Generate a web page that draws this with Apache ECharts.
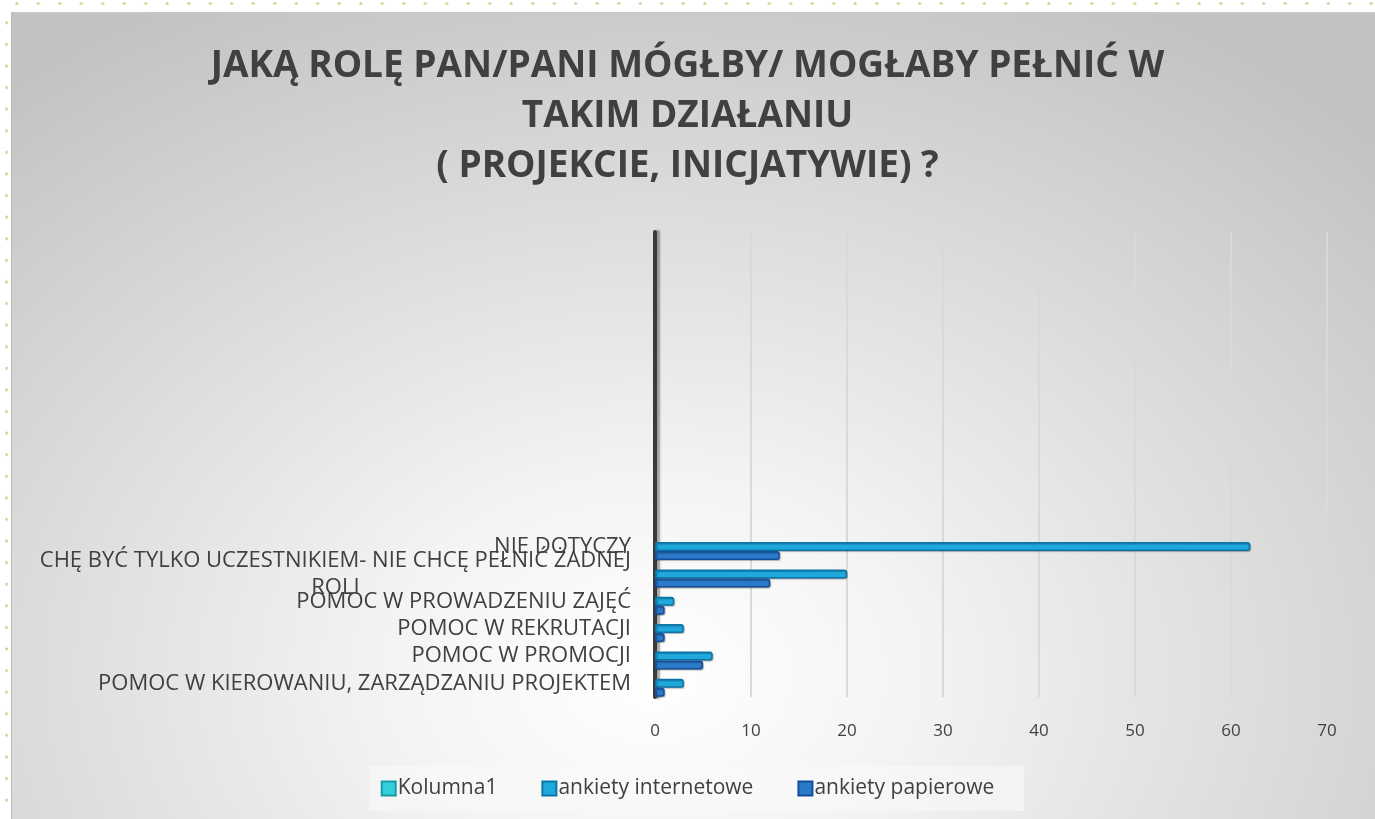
<!DOCTYPE html>
<html>
<head>
<meta charset="utf-8">
<script src="https://cdn.jsdelivr.net/npm/echarts@6/dist/echarts.min.js"></script>
<style>
  html, body { margin: 0; padding: 0; }
  body {
    width: 1375px; height: 819px; overflow: hidden; position: relative;
    background-color: #fff;
  }
  #dotsTop {
    position: absolute; left: 6px; top: 0; width: 1369px; height: 7px;
    background-image: radial-gradient(circle, #c9dd9f 1.4px, transparent 1.8px);
    background-size: 21.5px 7px;
  }
  #dotsLeft {
    position: absolute; left: 3px; top: 12px; width: 7px; height: 807px;
    background-image: radial-gradient(circle, #c9dd9f 1.4px, transparent 1.8px);
    background-size: 7px 21.6px;
  }
  #frame {
    position: absolute; left: 11px; top: 12px; width: 1364px; height: 807px;
    border-left: 1px solid #b8b8b8; border-top: 1px solid #c8c8c8;
    box-sizing: border-box;
    background: radial-gradient(ellipse 75% 95% at 47% 82%, #ffffff 0%, #f4f4f4 25%, #c2c2c2 100%);
  }
  #chart { position: absolute; left: 0; top: 0; width: 1375px; height: 819px; }
</style>
</head>
<body>
<div id="dotsTop"></div>
<div id="dotsLeft"></div>
<div id="frame"></div>
<div id="chart"></div>
<script>
// categories listed bottom -> top, as ECharts draws a y category axis
var categories = [
  'POMOC W KIEROWANIU, ZARZĄDZANIU PROJEKTEM',
  'POMOC W PROMOCJI',
  'POMOC W REKRUTACJI',
  'POMOC W PROWADZENIU ZAJĘĆ',
  'CHĘ BYĆ TYLKO UCZESTNIKIEM- NIE CHCĘ PEŁNIĆ ŻADNEJ ROLI',
  'NIE DOTYCZY'
]
var kolumna1 = [null, null, null, null, null, null]
var internetowe = [3, 6, 3, 2, 20, 62]
var papierowe = [1, 5, 1, 1, 12, 13]
var blankRows = 11 // empty rows of the source table above the data
var xTicks = { min: 0, max: 70, interval: 10 }

var textColor = '#404040'
var font = 'Open Sans'
var labelSize = 22

// measure a line so the wrapped label can be centred under itself but end at the axis
var ctx = document.createElement('canvas').getContext('2d')
ctx.font = labelSize + 'px "' + font + '"'

var yData = categories.map(function(c) {
  if (c.indexOf(' ROLI') !== -1) {
    var first = c.replace(' ROLI', '')
    var w = ctx.measureText(first).width
    return {
      value: first + '\nROLI',
      textStyle: { align: 'center', padding: [0, w, 0, 0] }
    }
  }
  return c
})
for (var i = 0; i < blankRows; i++) yData.push('')

function pad(arr) {
  var out = arr.slice()
  for (var i = 0; i < blankRows; i++) out.push(null)
  return out
}

var myChart = echarts.init(document.getElementById('chart'))
myChart.setOption({
  backgroundColor: 'transparent',
  animation: false,
  title: {
    text: 'JAKĄ ROLĘ PAN/PANI MÓGŁBY/ MOGŁABY PEŁNIĆ W\nTAKIM DZIAŁANIU\n( PROJEKCIE, INICJATYWIE) ?',
    left: 'center',
    top: 36,
    padding: [5, 0, 5, 20],
    textStyle: {
      fontFamily: font,
      fontWeight: 'bold',
      fontSize: 37,
      lineHeight: 50,
      color: textColor
    }
  },
  legend: {
    bottom: 8,
    left: 'center',
    data: ['Kolumna1', 'ankiety internetowe', 'ankiety papierowe'],
    icon: 'rect',
    itemWidth: 14,
    itemHeight: 14,
    itemGap: 44,
    padding: [12, 30, 12, 12],
    backgroundColor: 'rgba(250,250,250,0.55)',
    textStyle: { fontFamily: font, fontSize: 21, color: textColor, padding: [0, 0, 0, -3] }
  },
  grid: { left: 655, right: 48, top: 232, bottom: 122 },
  xAxis: {
    type: 'value',
    min: xTicks.min,
    max: xTicks.max,
    interval: xTicks.interval,
    axisLine: { show: false },
    axisTick: { show: false },
    axisLabel: { margin: 26, fontFamily: font, fontSize: 17, color: textColor },
    splitLine: { lineStyle: { color: '#d9d9d9', width: 2 } }
  },
  yAxis: {
    type: 'category',
    data: yData,
    axisTick: { show: false },
    axisLine: {
      lineStyle: {
        color: '#3a3a3a', width: 4,
        shadowColor: 'rgba(0,0,0,0.35)', shadowOffsetX: 3, shadowBlur: 2
      }
    },
    axisLabel: {
      interval: 0,
      hideOverlap: false,
      margin: 24,
      fontFamily: font,
      fontSize: labelSize,
      lineHeight: 27,
      color: textColor
    },
    splitLine: { show: false }
  },
  series: [
    {
      name: 'Kolumna1',
      type: 'bar',
      data: pad(kolumna1),
      barWidth: 9,
      barGap: '0%',
      itemStyle: { color: '#2fd0da', borderColor: '#1a9aa6', borderWidth: 1 }
    },
    {
      name: 'ankiety internetowe',
      type: 'bar',
      data: pad(internetowe),
      barWidth: 9,
      barGap: '0%',
      itemStyle: {
        color: '#1ea8de', borderColor: '#0b76a6', borderWidth: 1.5, borderRadius: [0, 2, 2, 0],
        shadowColor: 'rgba(0,0,0,0.25)', shadowOffsetX: 1, shadowOffsetY: 1, shadowBlur: 1
      }
    },
    {
      name: 'ankiety papierowe',
      type: 'bar',
      data: pad(papierowe),
      barWidth: 9,
      barGap: '0%',
      itemStyle: {
        color: '#2b79c9', borderColor: '#134f9a', borderWidth: 1.5, borderRadius: [0, 2, 2, 0],
        shadowColor: 'rgba(0,0,0,0.25)', shadowOffsetX: 1, shadowOffsetY: 1, shadowBlur: 1
      }
    }
  ]
})
</script>
</body>
</html>
